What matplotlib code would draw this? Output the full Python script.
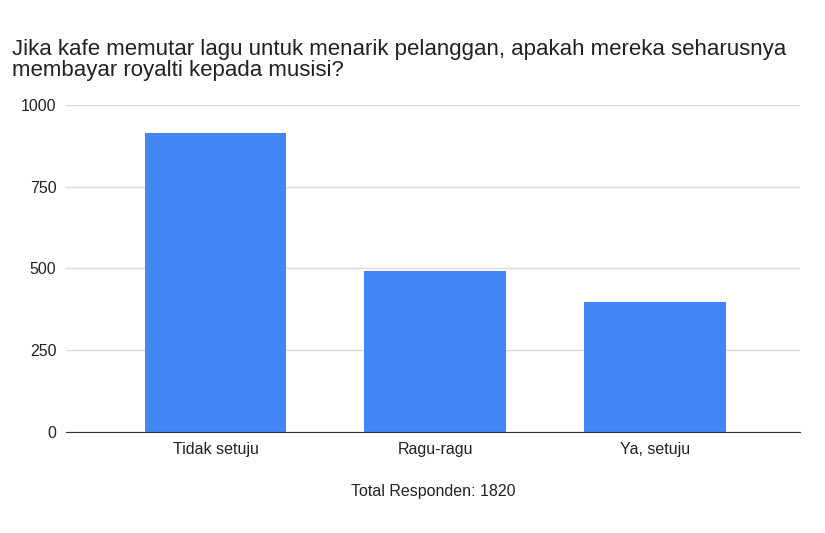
import matplotlib
matplotlib.use("Agg")
import matplotlib.pyplot as plt

plt.rcParams['font.family'] = ['Liberation Sans', 'DejaVu Sans']

categories = ["Tidak setuju", "Ragu-ragu", "Ya, setuju"]
values = [915, 491, 397]
yticks = [0, 250, 500, 750, 1000]

fig = plt.figure(figsize=(8.25, 5.33), dpi=100)
ax = fig.add_axes([0.080, 0.1895, 0.890, 0.6135])

ax.bar(range(len(categories)), values, width=0.645, color='#4285F4', zorder=3)

ax.set_xlim(-0.68, 2.66)
ax.set_ylim(0, 1000)
ax.set_yticks(yticks)
ax.set_xticks(range(len(categories)))
ax.set_xticklabels(categories)
ax.grid(axis='y', color='#d9d9d9', linewidth=1, zorder=0)
ax.tick_params(axis='both', length=0, labelsize=11.5, colors='#222222')
ax.tick_params(axis='y', pad=7)
ax.tick_params(axis='x', pad=7)
for s in ['top', 'right', 'left']:
    ax.spines[s].set_visible(False)
ax.spines['bottom'].set_color('#333333')
ax.spines['bottom'].set_zorder(4)

ax.set_xlabel("Total Responden: 1820", fontsize=11.5, color='#222222', labelpad=20)

fig.text(0.014, 0.926, "Jika kafe memutar lagu untuk menarik pelanggan, apakah mereka seharusnya\nmembayar royalti kepada musisi?",
         fontsize=16, color='#222222', va='top', ha='left', linespacing=1.0)

fig.savefig("out.png", dpi=100)
